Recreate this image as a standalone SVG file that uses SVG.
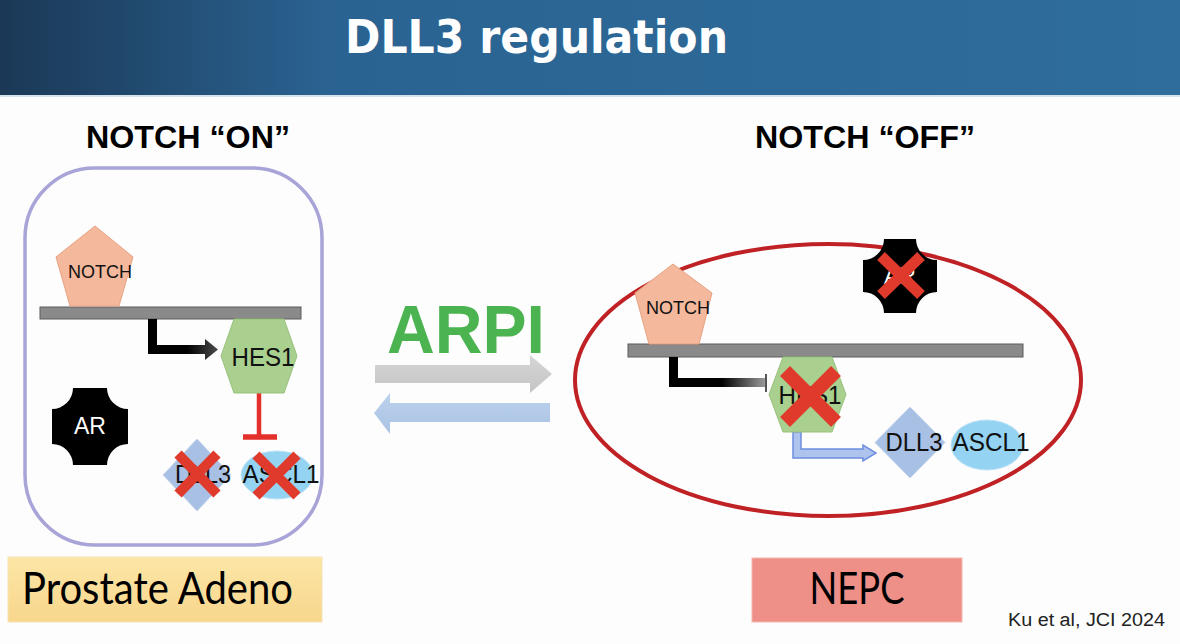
<svg xmlns="http://www.w3.org/2000/svg" width="1180" height="644" viewBox="0 0 1180 644">
<defs>
<linearGradient id="hdr" x1="0" y1="0" x2="1" y2="0">
<stop offset="0" stop-color="#1b3856"/>
<stop offset="0.28" stop-color="#2a6392"/>
<stop offset="1" stop-color="#2f6d9c"/>
</linearGradient>
<linearGradient id="blk1" gradientUnits="userSpaceOnUse" x1="148" y1="0" x2="218" y2="0">
<stop offset="0" stop-color="#000"/>
<stop offset="0.55" stop-color="#000"/>
<stop offset="1" stop-color="#4a4a4a"/>
</linearGradient>
<linearGradient id="blk2" gradientUnits="userSpaceOnUse" x1="669" y1="0" x2="765" y2="0">
<stop offset="0" stop-color="#000"/>
<stop offset="0.55" stop-color="#000"/>
<stop offset="1" stop-color="#9a9a9a"/>
</linearGradient>
<linearGradient id="yel" x1="0" y1="0" x2="0" y2="1">
<stop offset="0" stop-color="#fce6a6"/>
<stop offset="1" stop-color="#f8d68c"/>
</linearGradient>
<linearGradient id="gry" x1="0" y1="0" x2="0" y2="1">
<stop offset="0" stop-color="#d6d6d6"/>
<stop offset="1" stop-color="#c4c4c4"/>
</linearGradient>
<linearGradient id="blu" x1="0" y1="0" x2="0" y2="1">
<stop offset="0" stop-color="#bcd2ec"/>
<stop offset="1" stop-color="#a9c3e4"/>
</linearGradient>
</defs>
<style>
.t{font-family:"Liberation Sans",Arial,sans-serif}
.notch{fill:#f4b89c;stroke:#e8a283;stroke-width:1}
.hex{fill:#a9d08e;stroke:#98c27c;stroke-width:1}
.dia{fill:#a8c0e4;stroke:#c3d4ee;stroke-width:1}
.ell{fill:#94d3f2;stroke:#bde3f7;stroke-width:1}
.bar{fill:#8a8a8a;stroke:#5c5c5c;stroke-width:1}
.ar{fill:#000}
.x{stroke:#e03a2c;stroke-linecap:butt}
.lbl{font-size:25px;fill:#111}
</style>
<rect width="1180" height="644" fill="#fdfdfd"/>
<g id="header">
<rect x="0" y="0" width="1180" height="95" fill="url(#hdr)"/>
<rect x="0" y="95" width="1180" height="2" fill="#d5e3ef"/>
<text x="345" y="53" font-family="DejaVu Sans,Verdana,sans-serif" font-weight="bold" font-size="47" fill="#fff" textLength="383" lengthAdjust="spacingAndGlyphs">DLL3 regulation</text>
</g>
<g id="titles">
<text class="t" x="86" y="148" font-size="32" font-weight="bold" fill="#000" textLength="204" lengthAdjust="spacingAndGlyphs">NOTCH “ON”</text>
<text class="t" x="755" y="148" font-size="32" font-weight="bold" fill="#000" textLength="220" lengthAdjust="spacingAndGlyphs">NOTCH “OFF”</text>
</g>
<g id="left-cell">
<rect x="25" y="168" width="297" height="377" rx="70" ry="70" fill="none" stroke="#a8a4d8" stroke-width="3.5"/>
</g>
<g id="right-cell">
<ellipse cx="828" cy="380" rx="253" ry="136" fill="none" stroke="#bf2124" stroke-width="4"/>
</g>
<g id="membrane-left"><rect class="bar" x="40" y="307" width="261" height="12"/></g>
<g id="membrane-right"><rect class="bar" x="628" y="344" width="395" height="13"/></g>
<g id="notch-left">
<polygon class="notch" points="95,226 133,257 119,306 70,306 56,257"/>
<text class="t" x="100" y="278" font-size="18" text-anchor="middle" fill="#111">NOTCH</text>
</g>
<g id="notch-right">
<polygon class="notch" points="673,264 712,293 699,344 649,344 635,293"/>
<text class="t" x="678" y="314" font-size="18" text-anchor="middle" fill="#111">NOTCH</text>
</g>
<g id="connectors">
<path d="M148,319 L157,319 L157,345 L205,345 L205,339 L218,349.5 L205,360 L205,354 L148,354 Z" fill="url(#blk1)"/>
<path d="M259,393 V437" stroke="#e3302a" stroke-width="4.5"/>
<path d="M243,437 H277" stroke="#e3302a" stroke-width="5.5"/>
<path d="M669,357 L678,357 L678,378 L765,378 L765,387 L669,387 Z" fill="url(#blk2)"/>
<path d="M766,374 V392" stroke="#555" stroke-width="2"/>
<path d="M793,432 L801,432 L801,449 L863,449 L863,445 L876,453 L863,461 L863,458 L793,458 Z" fill="#afc3ef" stroke="#6d8fe0" stroke-width="1.5"/>
<path d="M375,365 L530,365 L530,355 L552,374 L530,393 L530,383 L375,383 Z" fill="url(#gry)"/>
<path d="M550,403 L390,403 L390,393 L374,413 L390,434 L390,422 L550,422 Z" fill="url(#blu)"/>
</g>
<g id="arpi">
<text class="t" x="387" y="353" font-size="68" font-weight="bold" fill="#4bb450" textLength="158" lengthAdjust="spacingAndGlyphs">ARPI</text>
</g>
<g id="hes1-left">
<polygon class="hex" points="234,319 284,319 297,356 284,393 234,393 221,356"/>
<text class="t lbl" x="263" y="366" text-anchor="middle" textLength="63" lengthAdjust="spacingAndGlyphs">HES1</text>
</g>
<g id="hes1-right">
<polygon class="hex" points="783,357 832,357 846,394.5 832,432 783,432 769,394.5"/>
<text class="t lbl" x="810" y="404" text-anchor="middle" textLength="63" lengthAdjust="spacingAndGlyphs">HES1</text>
<path class="x" d="M785,371 L836,422 M836,371 L785,422" stroke-width="14"/>
</g>
<g id="ar-left">
<path class="ar" d="M73,388 L107,388 A21,21 0 0 0 128,409 L128,444 A21,21 0 0 0 107,465 L73,465 A21,21 0 0 0 52,444 L52,409 A21,21 0 0 0 73,388 Z"/>
<text class="t" x="90" y="434" font-size="23" text-anchor="middle" fill="#fff">AR</text>
</g>
<g id="ar-right">
<path class="ar" d="M884,239 L916,239 A21,21 0 0 0 937,260 L937,292 A21,21 0 0 0 916,313 L884,313 A21,21 0 0 0 863,292 L863,260 A21,21 0 0 0 884,239 Z"/>
<text class="t" x="900" y="284" font-size="23" text-anchor="middle" fill="#fff">AR</text>
<path class="x" d="M881,256 L921,295 M921,256 L881,295" stroke-width="11"/>
</g>
<g id="dll3-left">
<polygon class="dia" points="197,439 231,475 197,511 163,475"/>
<text class="t lbl" x="203" y="483" text-anchor="middle" textLength="56" lengthAdjust="spacingAndGlyphs">DLL3</text>
<path class="x" d="M178,454 L217,494 M217,454 L178,494" stroke-width="10"/>
</g>
<g id="ascl1-left">
<ellipse class="ell" cx="277" cy="475" rx="36" ry="24"/>
<text class="t lbl" x="281" y="483" text-anchor="middle" textLength="77" lengthAdjust="spacingAndGlyphs">ASCL1</text>
<path class="x" d="M256,455 L297,496 M297,455 L256,496" stroke-width="10"/>
</g>
<g id="dll3-right">
<polygon class="dia" points="910,407 945,442.5 910,478 875,442.5"/>
<text class="t lbl" x="914" y="451" text-anchor="middle" textLength="57" lengthAdjust="spacingAndGlyphs">DLL3</text>
</g>
<g id="ascl1-right">
<ellipse class="ell" cx="987" cy="445" rx="36" ry="25"/>
<text class="t lbl" x="991" y="451" text-anchor="middle" textLength="77" lengthAdjust="spacingAndGlyphs">ASCL1</text>
</g>
<g id="label-adeno">
<rect x="8" y="557" width="314" height="65" fill="url(#yel)" stroke="#f3e3b8" stroke-width="1"/>
<text x="22" y="604" font-family="Lato,'Open Sans',sans-serif" font-size="44" fill="#000" textLength="271" lengthAdjust="spacingAndGlyphs">Prostate Adeno</text>
</g>
<g id="label-nepc">
<rect x="752" y="558" width="210" height="64" fill="#ee8f88" stroke="#f3b8b3" stroke-width="1"/>
<text x="857" y="604" font-family="Lato,'Open Sans',sans-serif" font-size="44" fill="#000" text-anchor="middle" textLength="95" lengthAdjust="spacingAndGlyphs">NEPC</text>
</g>
<g id="citation">
<text class="t" x="1008" y="626" font-size="18" fill="#222" textLength="157" lengthAdjust="spacingAndGlyphs">Ku et al, JCI 2024</text>
</g>
</svg>
